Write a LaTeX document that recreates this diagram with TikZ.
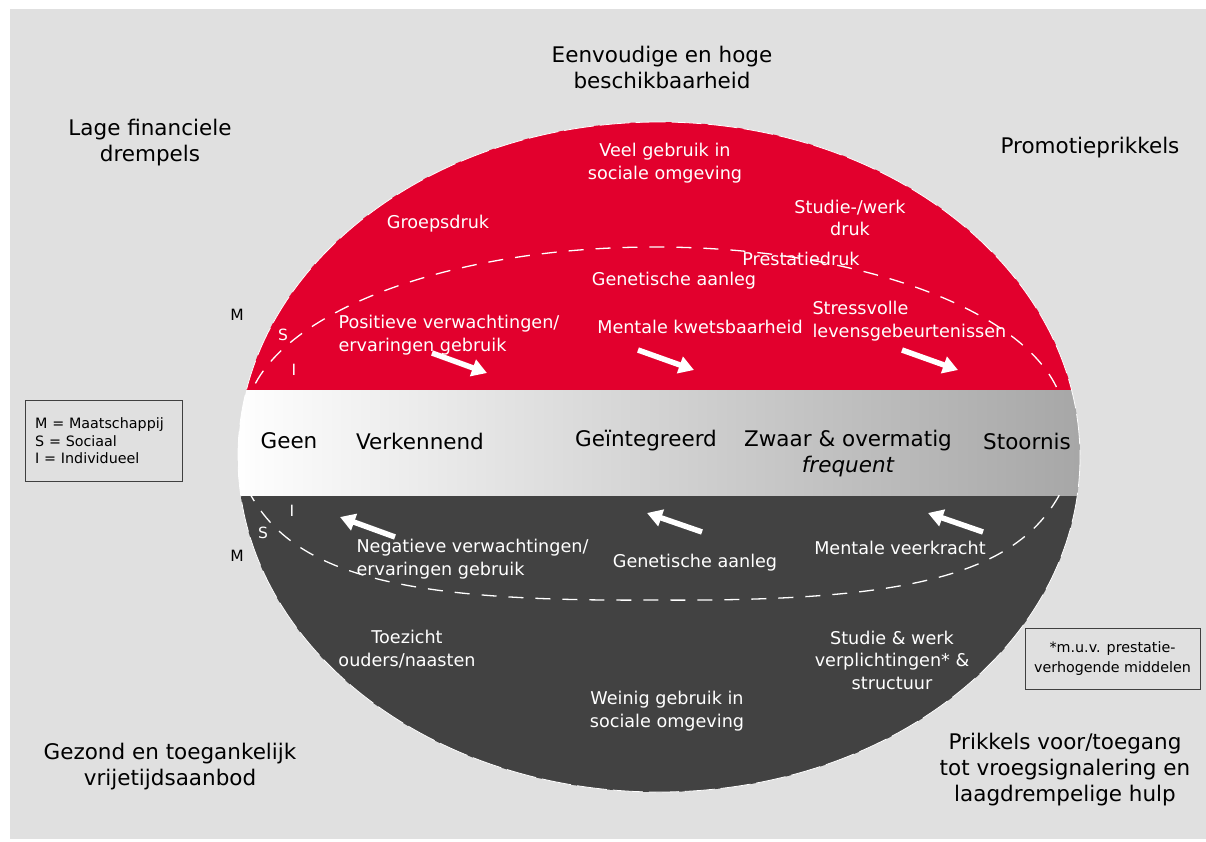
\documentclass[tikz,border=0pt]{standalone}
\usepackage{fontspec}
\setmainfont{DejaVu Sans}
\usetikzlibrary{arrows.meta}
\definecolor{achtergrond}{HTML}{E0E0E0}
\definecolor{rood}{HTML}{E2002D}
\definecolor{donker}{HTML}{424242}
\tikzset{
	buiten/.style={font=\fontsize{21.5}{26}\selectfont, align=center, text=black},
	binnen/.style={font=\fontsize{17.6}{22.5}\selectfont, align=center, text=white},
	bandtekst/.style={font=\fontsize{21.5}{26}\selectfont, text=black},
	niveau/.style={font=\fontsize{15.5}{18}\selectfont},
	pijl/.style={white, line width=5.5pt, -{Triangle[length=15pt,width=17pt]}},
	kader/.style={draw=black!75, fill=achtergrond, font=\fontsize{14.3}{17.5}\selectfont}
}
\begin{document}
\begin{tikzpicture}[x=1pt,y=-1pt]
		\useasboundingbox (0,0) rectangle (1206,841);
		\fill[white] (0,0) rectangle (1206,841);
		\fill[achtergrond] (10,9) rectangle (1206,839);
		
		% de ellips met band
		\begin{scope}
			\clip (659,457) ellipse [x radius=421, y radius=335];
			\fill[rood] (230,110) rectangle (1090,390);
			\fill[donker] (230,495) rectangle (1090,800);
			\shade[left color=white, right color=black!35] (230,390) rectangle (1090,495);
		\end{scope}
		\draw[white, line width=0.8pt, dash pattern=on 30pt off 6pt] (659,457) ellipse [x radius=421, y radius=335];
		\begin{scope}
			\clip (0,0) rectangle (1206,390);
			\draw[white, line width=1.3pt, dash pattern=on 15pt off 12pt] (655,423) ellipse [x radius=410, y radius=176];
		\end{scope}
		\begin{scope}
			\clip (0,495) rectangle (1206,841);
			\draw[white, line width=1.3pt, dash pattern=on 15pt off 12pt] (247,488) .. controls (290,575) and (400,602) .. (655,600)
				.. controls (910,602) and (1020,575) .. (1063,488);
		\end{scope}
		
		\node[buiten] (beschikbaar) at (662,67) {Eenvoudige en hoge\\beschikbaarheid};
		\node[buiten] (financieel) at (150,143) {Lage financiele\\drempels};
		\node[buiten] (promotie) at (1090,148) {Promotieprikkels};
		\node[buiten] (vrijetijd) at (170,767) {Gezond en toegankelijk\\vrijetijdsaanbod};
		\node[buiten] (vroeg) at (1065,770) {Prikkels voor/toegang\\tot vroegsignalering en\\laagdrempelige hulp};
		
		\node[binnen] (veelgebruik) at (665,163) {Veel gebruik in\\sociale omgeving};
		\node[binnen] (groepsdruk) at (438,224) {Groepsdruk};
		\node[binnen] (werkdruk) at (850,218) {Studie-/werk\\druk};
		\node[binnen] (prestatie) at (801,259) {Prestatiedruk};
		\node[binnen] (aanlegboven) at (674,281) {Genetische aanleg};
		\node[binnen, align=left, anchor=west] (stress) at (809,321) {Stressvolle\\levensgebeurtenissen};
		\node[binnen, align=left, anchor=west] (positief) at (335,335) {Positieve verwachtingen/\\ervaringen gebruik};
		\node[binnen] (kwetsbaar) at (700,327) {Mentale kwetsbaarheid};
		
		\node[bandtekst] (geen) at (289,441) {Geen};
		\node[bandtekst] (verkennend) at (420,441) {Verkennend};
		\node[bandtekst] (geintegreerd) at (646,441) {Geïntegreerd};
		\node[bandtekst] (zwaar) at (848,441) {Zwaar \& overmatig};
		\node[bandtekst, font=\fontsize{21.5}{26}\selectfont\itshape] (frequent) at (848,467) {frequent};
		\node[bandtekst] (stoornis) at (1027,441) {Stoornis};
		
		\node[binnen, align=left, anchor=west] (negatief) at (353,559) {Negatieve verwachtingen/\\ervaringen gebruik};
		\node[binnen] (aanlegonder) at (695,563) {Genetische aanleg};
		\node[binnen] (veerkracht) at (900,548) {Mentale veerkracht};
		\node[binnen] (toezicht) at (407,649) {Toezicht\\ouders/naasten};
		\node[binnen] (verplichting) at (892,660) {Studie \& werk\\verplichtingen* \&\\structuur};
		\node[binnen] (weinig) at (667,711) {Weinig gebruik in\\sociale omgeving};
		
		\node[niveau] (mboven) at (237,315) {M};
		\node[niveau, white] (sboven) at (283,335) {S};
		\node[niveau, white] (iboven) at (294,370) {I};
		\node[niveau, white] (ionder) at (292,511) {I};
		\node[niveau, white] (sonder) at (263,533) {S};
		\node[niveau] (monder) at (237,556) {M};
		
		\node[kader, anchor=north west, minimum width=157pt, minimum height=81pt, text width=137pt, inner xsep=10pt, align=left] (legenda) at (25,400) {M = Maatschappij\\S = Sociaal\\I = Individueel};
		\node[kader, minimum width=175pt, minimum height=61pt, align=center, font=\fontsize{14.3}{20}\selectfont] (voetnoot) at (1112.5,658.5) {*m.u.v. prestatie-\\verhogende middelen};
		
		% pijlen
		\coordinate (a1) at (432,353);
		\coordinate (b1) at (487,373);
		\coordinate (a2) at (638,350);
		\coordinate (b2) at (694,370);
		\coordinate (a3) at (902,350);
		\coordinate (b3) at (958,370);
		\coordinate (c1) at (395,537);
		\coordinate (d1) at (340,517);
		\coordinate (c2) at (702,532);
		\coordinate (d2) at (647,513);
		\coordinate (c3) at (983,532);
		\coordinate (d3) at (928,513);
		\draw[pijl] (a1) -- (b1);
		\draw[pijl] (a2) -- (b2);
		\draw[pijl] (a3) -- (b3);
		\draw[pijl] (c1) -- (d1);
		\draw[pijl] (c2) -- (d2);
		\draw[pijl] (c3) -- (d3);
	\end{tikzpicture}
\end{document}
